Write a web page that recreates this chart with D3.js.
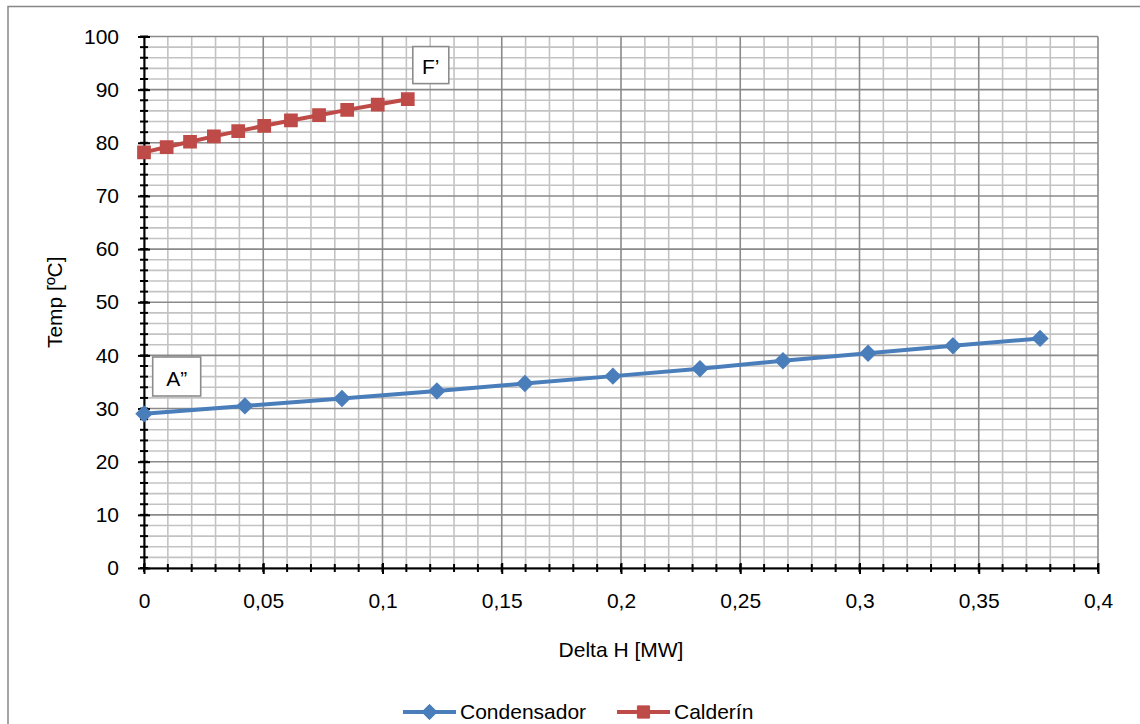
<!DOCTYPE html>
<html>
<head>
<meta charset="utf-8">
<script src="https://cdn.jsdelivr.net/npm/d3@7"></script>
<style>
  html, body { margin: 0; padding: 0; background: #fff; }
  svg { display: block; font-family: "Liberation Sans", Arial, sans-serif; }
</style>
</head>
<body>
<svg id="chart" width="1140" height="724"></svg>
<script>
// ---- data ----
const condX = [0, 0.0423, 0.083, 0.1228, 0.1597, 0.1966, 0.2331, 0.2679, 0.3036, 0.3392, 0.3757];
const condY = [29.0, 30.5, 31.9, 33.3, 34.7, 36.1, 37.5, 39.0, 40.4, 41.8, 43.2];
const caldX = [0, 0.0095, 0.0193, 0.0293, 0.0395, 0.0504, 0.0616, 0.0734, 0.0852, 0.098, 0.1106];
const caldY = [78.2, 79.2, 80.2, 81.2, 82.2, 83.2, 84.2, 85.2, 86.2, 87.2, 88.2];
const seriesNames = ["Condensador", "Calderín"];
const xTickValues = [0, 0.05, 0.1, 0.15, 0.2, 0.25, 0.3, 0.35, 0.4];
const xTickLabels = ["0", "0,05", "0,1", "0,15", "0,2", "0,25", "0,3", "0,35", "0,4"];
const yTickValues = [0, 10, 20, 30, 40, 50, 60, 70, 80, 90, 100];
const yTickLabels = ["0", "10", "20", "30", "40", "50", "60", "70", "80", "90", "100"];
const annotLabels = ["A\u201D", "F\u2019"];
const annotX = [0.00365, 0.1127];
const annotY = [39.7, 98.1];

// ---- layout ----
const svg = d3.select("#chart");
const W = 1140, H = 724;
const FS = 21;
const x = d3.scaleLinear().domain([0, 0.4]).range([144, 1098]);
const y = d3.scaleLinear().domain([0, 100]).range([568, 36.5]);
const blue = "#4A7EBB", red = "#BE4B48";

// outer chart border (extends beyond viewport on right/bottom)
svg.append("rect").attr("x", 8).attr("y", 6.5).attr("width", W + 20).attr("height", H + 20)
  .attr("fill", "#fff").attr("stroke", "#878787").attr("stroke-width", 1.5);

// ---- grid ----
const g = svg.append("g");
const xMinor = d3.range(0, 41).map(i => i / 100);
const yMinor = d3.range(0, 51).map(i => i * 2);
g.selectAll(".vminor").data(xMinor.filter((d, i) => i % 5 !== 0)).join("line")
  .attr("x1", d => x(d)).attr("x2", d => x(d)).attr("y1", y(0)).attr("y2", y(100))
  .attr("stroke", "#c3c3c3").attr("stroke-width", 1.6);
g.selectAll(".hminor").data(yMinor.filter((d, i) => i % 5 !== 0)).join("line")
  .attr("x1", x(0)).attr("x2", x(0.4)).attr("y1", d => y(d)).attr("y2", d => y(d))
  .attr("stroke", "#c3c3c3").attr("stroke-width", 1.6);
g.selectAll(".vmajor").data(xTickValues).join("line")
  .attr("x1", d => x(d)).attr("x2", d => x(d)).attr("y1", y(0)).attr("y2", y(100))
  .attr("stroke", "#8a8a8a").attr("stroke-width", 1.6);
g.selectAll(".hmajor").data(yTickValues).join("line")
  .attr("x1", x(0)).attr("x2", x(0.4)).attr("y1", d => y(d)).attr("y2", d => y(d))
  .attr("stroke", "#8a8a8a").attr("stroke-width", 1.6);

// ---- axes ----
const ax = svg.append("g");
ax.selectAll(".yminT").data(yMinor).join("line")
  .attr("x1", x(0) - 4).attr("x2", x(0) + 4).attr("y1", d => y(d)).attr("y2", d => y(d))
  .attr("stroke", "#000").attr("stroke-width", 2);
ax.selectAll(".xminT").data(xMinor).join("line")
  .attr("x1", d => x(d)).attr("x2", d => x(d)).attr("y1", y(0) - 4).attr("y2", y(0) + 4)
  .attr("stroke", "#000").attr("stroke-width", 2);

const yAxis = d3.axisLeft(y).tickValues(yTickValues)
  .tickFormat((d, i) => yTickLabels[i]).tickSize(6).tickPadding(19).tickSizeOuter(0);
const yg = svg.append("g").attr("transform", `translate(${x(0)},0)`).call(yAxis);
yg.select(".domain").attr("stroke", "#000").attr("stroke-width", 2);
yg.selectAll(".tick line").attr("x2", 6).attr("x1", -6).attr("stroke-width", 2);
yg.selectAll(".tick text").attr("font-size", FS).attr("fill", "#000")
  .attr("font-family", '"Liberation Sans", Arial, sans-serif');

const xAxis = d3.axisBottom(x).tickValues(xTickValues)
  .tickFormat((d, i) => xTickLabels[i]).tickSize(6).tickPadding(19).tickSizeOuter(0);
const xg = svg.append("g").attr("transform", `translate(0,${y(0)})`).call(xAxis);
xg.select(".domain").attr("stroke", "#000").attr("stroke-width", 2);
xg.selectAll(".tick line").attr("y1", -5).attr("y2", 6).attr("stroke-width", 2);
xg.selectAll(".tick text").attr("font-size", FS).attr("fill", "#000")
  .attr("font-family", '"Liberation Sans", Arial, sans-serif');

// axis titles
svg.append("text").attr("x", x(0.2)).attr("y", 657).attr("text-anchor", "middle")
  .attr("font-size", FS).attr("fill", "#000").text("Delta H [MW]");
svg.append("text").attr("transform", `translate(62,${(y(0) + y(100)) / 2}) rotate(-90)`)
  .attr("text-anchor", "middle").attr("font-size", FS).attr("fill", "#000").text("Temp [ºC]");

// ---- series ----
const line = d3.line().x(d => x(d[0])).y(d => y(d[1]));
const cond = condX.map((d, i) => [d, condY[i]]);
const cald = caldX.map((d, i) => [d, caldY[i]]);
const diamond = d3.symbol().type(d3.symbolDiamond2).size(150);
const square = d3.symbol().type(d3.symbolSquare2).size(190);

svg.append("path").datum(cond).attr("d", line).attr("fill", "none")
  .attr("stroke", blue).attr("stroke-width", 4).attr("stroke-linejoin", "round");
svg.selectAll(".cm").data(cond).join("path")
  .attr("transform", d => `translate(${x(d[0])},${y(d[1])})`)
  .attr("d", diamond).attr("fill", blue).attr("stroke", blue).attr("stroke-width", 1.5);

svg.append("path").datum(cald).attr("d", line).attr("fill", "none")
  .attr("stroke", red).attr("stroke-width", 4).attr("stroke-linejoin", "round");
svg.selectAll(".rm").data(cald).join("path")
  .attr("transform", d => `translate(${x(d[0])},${y(d[1])})`)
  .attr("d", square).attr("fill", red).attr("stroke", red).attr("stroke-width", 1.5);

// ---- annotations ----
const annW = [48, 36], annH = [39, 37];
annotLabels.forEach((t, i) => {
  const ag = svg.append("g").attr("transform", `translate(${x(annotX[i])},${y(annotY[i])})`);
  ag.append("rect").attr("width", annW[i]).attr("height", annH[i])
    .attr("fill", "#fff").attr("stroke", "#8c8c8c").attr("stroke-width", 1.6);
  ag.append("text").attr("x", annW[i] / 2).attr("y", annH[i] - 9.5).attr("text-anchor", "middle")
    .attr("font-size", FS).attr("fill", "#000").text(t);
});

// ---- legend ----
const lg = svg.append("g");
const legX = [403, 617], legColor = [blue, red], legSym = [diamond, square];
seriesNames.forEach((n, i) => {
  lg.append("line").attr("x1", legX[i]).attr("x2", legX[i] + 53).attr("y1", 712).attr("y2", 712)
    .attr("stroke", legColor[i]).attr("stroke-width", 4);
  lg.append("path").attr("transform", `translate(${legX[i] + 26.5},712)`)
    .attr("d", legSym[i]).attr("fill", legColor[i]).attr("stroke", legColor[i]).attr("stroke-width", 1);
  lg.append("text").attr("x", legX[i] + 57).attr("y", 719).attr("font-size", FS)
    .attr("fill", "#000").text(n);
});
</script>
</body>
</html>
